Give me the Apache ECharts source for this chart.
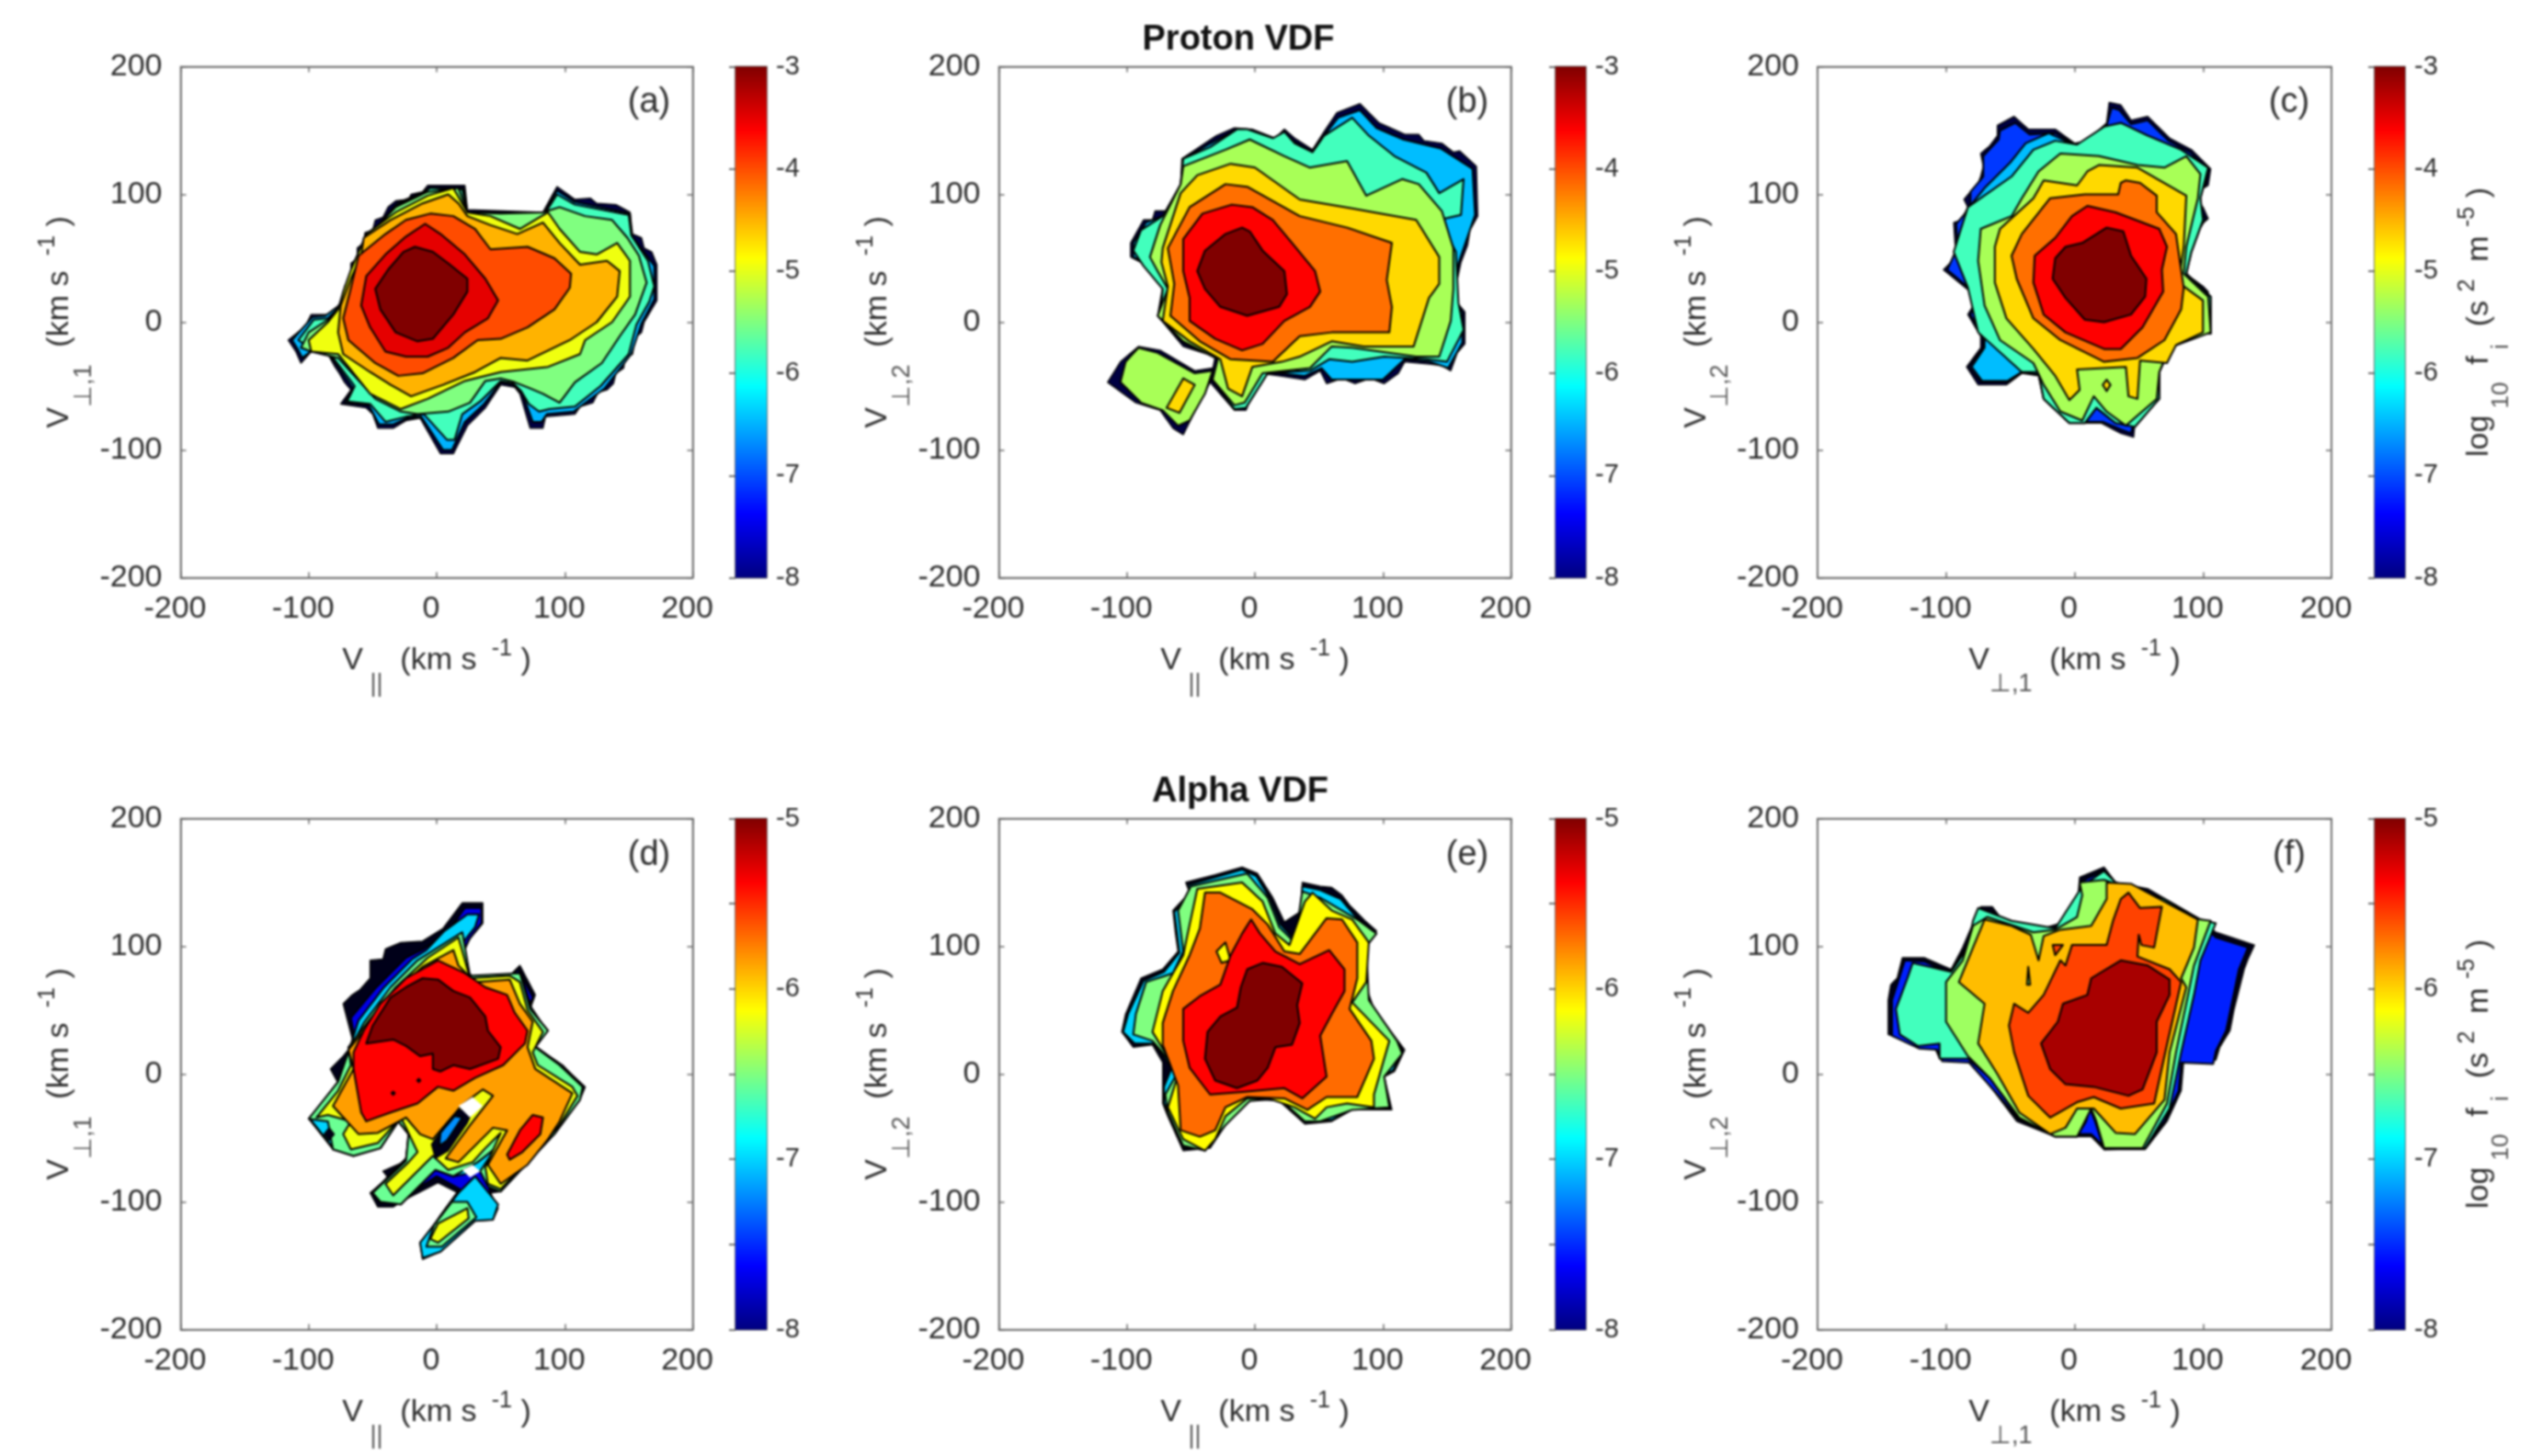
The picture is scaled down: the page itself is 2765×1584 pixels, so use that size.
<!DOCTYPE html>
<html><head><meta charset="utf-8">
<style>html,body{margin:0;padding:0;background:#fff}#c{width:2765px;height:1584px;filter:blur(0.8px)}</style>
<script src="https://cdn.jsdelivr.net/npm/echarts@6/dist/echarts.min.js"></script>
</head><body><div id="c"></div>
<script>
// Contours: flat x,y lists in km/s.
const aSil=[-116,-14,-106,-6,-102,-2,-98,6,-87,6,-80,6,-77,13,-72,18,-72,28,-67,34,-67,46,-62,50,-62,58,-57,62,-56,70,-50,72,-48,80,-42,82,-38,90,-32,95,-22,96,-20,100,-11,102,-7,107,22,107,24,88,83,86,94,106,108,96,120,97,125,93,140,92,151,86,153,69,160,66,162,58,168,55,172,45,172,17,162,0,160,-8,155,-12,153,-25,147,-28,146,-36,140,-40,138,-48,133,-53,126,-55,122,-63,112,-66,108,-72,85,-74,83,-83,73,-83,65,-56,61,-51,50,-49,38,-67,24,-81,13,-103,3,-103,-13,-75,-24,-77,-34,-83,-46,-83,-50,-72,-55,-67,-75,-64,-67,-53,-72,-47,-76,-40,-80,-34,-85,-25,-98,-23,-106,-32,-110,-23];
const aBlue=[-113,-14,-97,4,-87,5,-75,14,-65,46,-55,65,-31,93,-10,102,-6,105,21,105,24,86,84,85,94,103,108,94,151,85,152,68,170,44,170,18,160,-1,152,-25,131,-52,107,-70,86,-72,82,-78,75,-78,67,-56,60,-49,50,-47,37,-64,22,-78,12,-100,5,-100,-12,-74,-23,-75,-34,-80,-45,-80,-53,-65,-72,-63,-65,-52,-84,-25,-97,-22,-105,-28,-108,-22];
const aAqua=[-108,-14,-96,2,-85,3,-74,14,-64,46,-54,65,-30,92,-9,102,-5,105,20,104,24,86,84,84,94,100,108,92,150,84,152,68,165,48,170,28,166,16,156,-2,150,-25,128,-50,108,-66,88,-68,80,-70,72,-64,66,-54,60,-48,50,-46,34,-62,20,-72,14,-92,8,-92,-10,-72,-24,-74,-40,-78,-52,-64,-70,-62,-64,-50,-83,-25,-98,-21];
const aGreen=[96,90,116,83,137,80,149,66,158,52,164,31,155,6,143,-11,129,-32,108,-47,96,-63,83,-56,71,-51,61,-47,50,-44,38,-46,26,-63,9,-70,-15,-72,-28,-70,-48,-60,-77,-28,-98,-23,-106,-20,-100,-8,-85,2,-77,10,-67,38,-57,64,-32,90,-7,102,17,105,24,86,50,85,83,86];
const aYellow=[13,105,24,86,42,83,65,73,87,86,96,73,112,55,125,53,141,62,151,48,151,20,137,0,116,-14,112,-25,87,-35,50,-39,22,-46,-7,-60,-28,-68,-52,-56,-77,-25,-98,-23,-100,-14,-85,0,-77,10,-73,24,-67,41,-61,55,-55,69,-32,86,-7,99];
const aOrange=[9,100,17,93,24,83,42,76,63,69,83,78,96,62,112,45,133,48,143,40,141,20,125,0,104,-14,71,-30,50,-28,30,-39,5,-49,-20,-58,-36,-49,-52,-39,-73,-25,-77,-8,-75,13,-67,34,-59,52,-57,66,-36,80,-11,93];
const aOrangeRed=[-5,85,13,83,30,73,42,57,71,59,92,50,105,38,104,27,92,10,71,-4,50,-13,32,-14,13,-28,-11,-40,-30,-42,-48,-32,-69,-14,-73,3,-67,27,-61,52,-40,69,-24,80];
const aRed=[-9,77,3,69,22,53,38,34,48,17,40,3,22,-8,9,-20,-7,-27,-24,-27,-40,-23,-52,-4,-59,13,-55,36,-40,53,-24,67];
const aCore=[-17,59,-3,55,9,46,24,34,24,24,13,6,-3,-13,-15,-15,-32,-8,-44,10,-48,26,-38,41,-26,55];

const bSil=[-57,128,-48,134,-39,140,-30,146,-16,152,-2,151,16,144,23,151,31,144,45,135,54,149,64,164,82,171,97,156,117,147,128,147,132,142,146,140,155,133,160,134,173,122,174,83,168,72,166,60,161,47,155,19,164,8,164,-17,158,-24,153,-38,146,-34,138,-33,117,-31,112,-40,101,-48,90,-44,78,-48,68,-44,56,-48,51,-38,39,-45,19,-42,4,-40,-7,-69,-16,-69,-35,-47,-31,-27,-56,-19,-76,5,-72,28,-76,40,-97,51,-97,62,-87,80,-80,80,-78,87,-68,87,-64,96,-60,100,-58,108];
const bIsleSil=[-91,-19,-74,-22,-47,-38,-33,-36,-35,-47,-47,-70,-56,-88,-64,-83,-74,-69,-93,-63,-115,-47,-105,-31];
const bBlue=[-55,128,-38,138,-16,150,-3,149,16,142,23,148,31,141,45,133,54,146,65,160,82,166,95,152,116,143,145,136,170,120,172,84,159,46,153,18,162,8,162,-16,151,-36,137,-31,117,-29,100,-45,60,-45,52,-36,39,-42,18,-40,4,-39,-8,-67,-16,-67,-33,-46,-29,-28,-55,-17,-75,4,-71,28,-75,41,-95,51,-95,62,-85,78,-67,85,-57,107];
const bAqua=[-35,137,-14,151,-6,151,14,144,23,149,31,140,45,133,54,146,76,160,89,146,109,130,134,117,144,101,163,112,161,84,144,80,157,55,159,15,163,-6,150,-31,134,-29,101,-27,76,-31,58,-29,43,-38,10,-40,-7,-67,-16,-68,-33,-45,-27,-29,-56,-13,-74,3,-72,26,-87,44,-95,56,-89,72,-72,83,-58,108,-56,128];
const bIsleGreen=[-91,-20,-76,-24,-47,-40,-33,-38,-39,-56,-51,-77,-60,-81,-72,-69,-89,-63,-105,-47,-101,-31];
const bGreen=[-4,143,23,130,43,121,72,126,87,99,115,112,128,108,146,87,155,58,155,26,153,1,144,-27,126,-27,76,-20,60,-19,43,-36,6,-40,-8,-63,-16,-65,-33,-45,-29,-29,-56,-15,-76,5,-68,26,-76,40,-82,51,-74,76,-58,108,-56,122,-23,135];
const bGold=[-19,124,0,121,35,96,76,89,126,80,144,51,144,30,136,19,124,-19,85,-19,60,-15,35,-27,21,-31,-2,-35,-10,-58,-21,-52,-27,-29,-51,-15,-72,1,-68,28,-73,47,-72,58,-58,101,-45,115];
const bIsleGold=[-56,-44,-47,-49,-59,-71,-69,-67];
const bOrange=[-23,108,-6,106,35,83,72,74,107,62,103,33,107,12,105,-8,60,-8,35,-11,14,-31,-19,-29,-43,-15,-66,5,-63,30,-68,58,-51,90];
const bRed=[-18,92,-2,90,14,80,29,62,47,40,51,24,43,12,23,1,6,-17,-10,-22,-31,-13,-51,1,-51,19,-56,40,-56,65,-41,85];
const bCore=[-10,74,-4,71,6,56,23,40,25,22,19,12,-6,5,-27,12,-39,26,-45,40,-39,56,-23,69];

const cSil=[-60,154,-47,161,-36,151,-15,151,0,140,10,142,25,156,27,172,36,170,44,158,57,161,74,144,91,135,106,120,104,107,99,104,93,97,100,90,104,81,98,76,93,62,88,50,85,38,92,34,100,28,104,24,106,-9,85,-9,74,-21,66,-39,65,-60,47,-79,46,-90,36,-87,21,-79,-4,-79,-24,-60,-28,-42,-41,-40,-53,-49,-75,-49,-84,-35,-73,-20,-73,-11,-83,6,-75,19,-102,41,-95,48,-92,56,-93,62,-94,78,-88,80,-83,90,-86,96,-81,102,-76,106,-73,114,-71,122,-73,132,-66,138,-60,146];
const cBlue1=[-58,150,-46,156,-35,147,-15,148,0,139,10,141,25,154,29,168,35,166,44,155,57,158,73,142,90,133,104,119,102,107,91,97,102,81,91,62,84,38,102,24,105,-8,84,-8,73,-20,65,-38,64,-59,46,-78,44,-87,36,-84,22,-78,-4,-78,-24,-59,-27,-41,-41,-39,-53,-47,-73,-47,-82,-35,-71,-20,-71,-11,-81,6,-73,19,-99,41,-91,59,-92,77,-81,90,-81,102,-71,114,-71,130,-59,143];
const cBlue2=[1,138,23,152,36,156,57,146,83,135,104,120,98,97,100,80,91,55,87,38,106,20,106,-9,85,-9,74,-21,66,-39,66,-60,47,-80,32,-79,17,-67,8,-79,-4,-79,-24,-60,-28,-41,-41,-39,-52,-46,-72,-46,-80,-35,-70,-20,-70,-8,-80,24,-92,55,-82,90,-70,105,-50,125,-38,140,-20,148];
const cAqua=[2,139,23,153,36,156,57,146,83,135,104,121,98,97,100,80,91,55,87,38,106,20,106,-9,85,-9,74,-21,66,-39,66,-60,47,-82,32,-79,17,-67,8,-79,-4,-79,-24,-60,-28,-39,-41,-39,-75,-8,-83,27,-94,55,-83,90,-49,114,-32,135,-15,142];
const cGreen=[-11,132,19,130,49,123,70,121,87,130,98,116,96,97,87,59,85,38,104,20,106,-8,74,-20,66,-39,64,-60,40,-81,25,-70,15,-58,6,-77,-11,-70,-24,-49,-32,-32,-58,-14,-70,13,-75,48,-73,73,-49,83,-41,97,-28,118];
const cGold=[10,118,19,123,49,121,87,99,85,59,81,31,100,17,100,-8,79,-18,72,-32,51,-30,49,-60,42,-58,40,-35,2,-37,4,-53,-4,-61,-15,-42,-32,-21,-53,3,-62,31,-62,59,-58,73,-32,97,-24,111,2,107];
const cDiamond=[25,-45,28,-49,25,-54,22,-49];
const cOrange=[40,111,51,109,64,99,64,86,79,69,85,27,83,10,70,-14,49,-28,23,-31,-11,-14,-32,3,-45,34,-49,52,-41,69,-19,97,8,100,34,100,36,109];
const cRed=[10,91,32,86,66,73,72,59,68,41,69,24,53,-4,36,-21,23,-21,-7,-8,-24,6,-32,31,-31,52,-15,66,-2,83];
const cCore=[25,74,38,71,44,52,56,34,55,20,44,6,23,0,8,2,-7,19,-17,34,-15,50,-7,59,6,62];

const dSil=[20,134,36,134,36,118,26,106,17,87,28,75,57,77,65,85,77,62,73,51,87,34,77,22,100,5,116,-10,112,-20,92,-47,50,-92,42,-93,48,-105,44,-114,30,-115,3,-139,-11,-145,-13,-132,1,-114,17,-93,1,-85,-28,-100,-34,-104,-46,-104,-52,-93,-38,-81,-42,-76,-24,-68,-22,-47,-30,-37,-44,-58,-65,-64,-81,-59,-100,-35,-77,-7,-83,4,-73,14,-65,24,-73,55,-66,62,-60,66,-52,75,-52,89,-42,90,-40,98,-28,103,-11,104,5,114];
const dBlue=[22,130,35,130,35,118,25,105,17,86,28,76,56,76,64,82,75,60,71,50,85,34,75,22,99,6,114,-10,110,-20,90,-46,50,-90,41,-90,46,-105,42,-112,29,-113,2,-137,-10,-142,-11,-132,2,-112,18,-90,0,-80,-28,-98,-44,-101,-50,-93,-36,-78,-24,-66,-21,-48,-30,-37,-44,-56,-65,-62,-80,-58,-97,-35,-76,-8,-67,6,-64,28,-67,44,-47,68,-24,91,-10,98,8,110];
const dAqua=[24,125,33,125,30,115,22,105,17,88,28,76,56,76,65,80,74,52,86,34,76,22,98,7,113,-10,111,-20,91,-47,50,-91,41,-89,34,-76,13,-80,-1,-75,-28,-102,-44,-100,-50,-93,-24,-68,-22,-47,-30,-37,-44,-58,-65,-64,-80,-59,-99,-35,-77,-6,-69,17,-61,42,-41,68,-19,90,-8,97,6,112];
const dFingerAqua=[30,-80,48,-102,44,-114,30,-115,3,-139,-11,-144,-13,-132,1,-114,17,-93];
const dBlob=[-84,-42,-80,-47,-84,-52,-88,-47];
const dGreen=[20,111,26,77,65,79,73,51,87,34,77,21,96,7,114,-10,112,-20,92,-47,50,-92,40,-88,34,-76,46,-58,32,-69,13,-80,-1,-75,-28,-102,-44,-100,-50,-93,-24,-68,-22,-47,-30,-37,-44,-58,-65,-64,-81,-59,-85,-37,-100,-35,-77,-6,-69,17,-57,40,-36,68,-15,89];
const dFingerGreen=[24,-100,31,-112,4,-135,-8,-135,-2,-118,12,-100];
const dYellow=[17,107,26,75,57,77,65,72,71,50,83,33,75,17,79,7,106,-10,110,-17,96,-40,71,-68,50,-90,40,-86,38,-73,50,-46,38,-58,28,-69,9,-75,-3,-64,-34,-95,-40,-86,-22,-69,-15,-61,-24,-42,-28,-34,-46,-54,-67,-59,-73,-47,-67,-37,-85,-32,-94,-34,-77,-13,-67,7,-69,21,-52,43,-32,68,-7,91];
const dFingerYellow=[24,-105,25,-113,1,-132,-5,-129,1,-117];
const dSlitDark=[17.5,-28,30,-25,24,-38,9,-60,-1,-66,-4,-55,7,-40];
const dSlitBlue=[14,-33,20,-34,8,-52,2,-56,3,-46];
const dOrange=[13,97,17,85,30,72,57,74,65,55,75,41,71,21,77,4,106,-15,96,-37,87,-51,71,-71,50,-86,40,-71,55,-44,44,-42,17,-69,7,-66,26,-40,44,-17,36,-12,20,-24,-3,-51,-13,-47,-24,-34,-46,-46,-61,-47,-81,-25,-65,4,-69,19,-52,40,-36,62,-11,84];
const dRed=[1,89,22,79,38,68,55,62,61,48,71,34,69,24,52,7,30,-3,13,-13,1,-10,-15,-23,-36,-30,-55,-37,-59,-30,-65,4,-65,17,-57,34,-44,55,-24,75];
const dRedIsle=[75,-32,83,-34,81,-47,67,-61,57,-67,55,-63,65,-44];
const dCore=[-11,75,1,74,13,65,26,60,38,45,40,34,50,21,48,12,26,4,13,7,3,2,-3,4,-3,16,-13,14,-24,22,-34,27,-55,24,-50,38,-36,60,-24,68];
const dDot1=[-34,-13.5,-32.5,-15,-34,-16.5,-35.5,-15];
const dDot2=[-14,-3.5,-12.5,-5,-14,-6.5,-15.5,-5];
const dHole1=[17,-25,28,-18,36,-25,26,-34];
const dHole2=[20,-75,28,-71,34,-76,26,-81];

const eSil=[-54,150,-31,156,-10,162,2,157,14,138,23,119,37,128,37,150,51,147,60,146,68,140,74,132,78,128,86,120,95,112,87,103,87,68,93,51,117,19,109,2,101,-2,107,-28,76,-28,60,-37,39,-39,19,-21,-4,-19,-23,-40,-35,-58,-56,-60,-68,-33,-72,-23,-72,9,-80,23,-95,21,-104,33,-101,47,-89,75,-72,82,-60,96,-62,110,-64,128,-51,142];
const eAqua=[-52,148,-31,154,-10,160,1,155,12,137,20,117,31,105,36,130,37,147,51,144,67,137,78,124,93,111,86,101,86,68,91,52,115,19,108,3,100,-2,105,-27,76,-27,60,-36,39,-37,19,-20,-4,-20,-23,-39,-36,-57,-55,-58,-67,-32,-71,-23,-71,-10,-65,5,-79,24,-94,24,-103,33,-99,47,-87,73,-71,80,-59,95,-63,127,-51,140];
const eGreen=[-50,147,-6,157,10,138,19,115,31,103,37,143,51,138,80,121,95,110,87,100,89,58,111,26,115,16,101,-2,105,-26,76,-28,51,-37,39,-37,19,-19,-4,-21,-23,-40,-39,-60,-56,-56,-68,-30,-70,-16,-60,2,-80,26,-95,31,-93,47,-85,72,-64,79,-56,96,-60,128];
const eYellow=[-45,145,-10,150,6,135,16,110,27,101,39,135,45,142,60,128,76,121,89,103,87,72,76,56,105,26,93,-16,93,-26,72,-23,56,-26,47,-35,31,-26,10,-19,-6,-19,-23,-33,-31,-51,-39,-60,-56,-51,-68,-26,-60,0,-80,33,-72,65,-56,93,-51,117];
const eOrange=[-39,142,-27,142,-2,129,10,117,23,96,35,94,56,122,68,121,80,103,80,75,74,51,91,26,93,12,80,-18,56,-18,41,-28,23,-19,-6,-18,-23,-26,-31,-44,-43,-49,-58,-44,-60,-9,-72,23,-72,40,-64,65,-51,93,-43,114];
const eGoldSpot=[-23,103,-19,89,-26,87,-30,96];
const eRed=[-3,121,4,110,16,96,35,86,58,97,70,82,70,65,60,47,51,30,56,-2,37,-19,23,-11,-10,-14,-35,-16,-51,5,-56,26,-56,51,-43,61,-27,70,-19,93,-10,110];
const eCore=[6,87,21,84,37,71,33,54,35,40,29,23,16,21,10,5,2,-5,-14,-11,-31,-5,-39,12,-37,33,-27,45,-14,52,-11,68,-6,82];

const fSil=[-134,91,-117,91,-96,82,-87,99,-79,118,-73,131,-64,131,-58,123,-28,113,-11,118,2,130,4,154,23,162,32,150,57,145,83,130,98,121,110,111,140,101,135,90,132,82,128,66,124,50,121,34,113,21,110,11,85,11,83,-13,72,-37,55,-59,23,-59,13,-49,-15,-49,-45,-37,-60,-17,-70,-4,-83,11,-105,12,-109,21,-122,22,-145,31,-145,58,-143,70,-138,75];
const fBlue=[-132,89,-117,88,-97,79,-85,98,-77,116,-72,128,-65,128,-57,120,-28,110,-11,115,3,127,6,151,22,159,32,147,57,142,82,127,97,119,110,107,135,99,128,82,118,34,110,18,108,8,83,9,81,-13,70,-37,54,-57,23,-57,13,-47,-15,-47,-44,-35,-59,-17,-82,9,-103,10,-107,19,-121,20,-142,30,-142,58];
const fAqua=[-75,130,-49,120,-15,114,6,147,23,159,32,150,70,137,98,121,110,118,98,89,93,62,83,17,74,-27,55,-58,23,-59,16,-37,12,-27,9,-37,2,-49,-15,-49,-43,-35,-66,-3,-83,12,-105,12,-105,24,-122,22,-136,31,-139,51,-130,75,-126,87,-96,80,-83,99,-79,120];
const fGreen=[4,150,23,152,70,135,98,121,106,120,93,85,89,65,79,17,72,-23,53,-58,23,-58,17,-37,13,-27,8,-37,2,-49,-15,-49,-43,-34,-66,-3,-83,14,-100,41,-100,72,-87,89,-79,116,-68,123,-32,111,-15,113,2,123,6,140];
const fAmber=[25,150,44,149,70,135,96,121,93,99,83,75,87,68,74,17,70,-20,47,-47,32,-46,15,-27,2,-27,-7,-42,-19,-47,-43,-30,-60,0,-75,24,-70,55,-90,72,-79,99,-70,121,-49,116,-34,109,-28,89,-24,108,-11,113,13,116,25,137];
const fSlit=[-36,84,-34.5,70,-37,70];
const fOrangeRed=[42,142,51,130,68,131,62,99,52,101,50,109,49,92,74,82,83,72,70,14,62,-23,36,-27,15,-18,2,-22,-19,-34,-36,-17,-47,17,-51,38,-47,55,-36,48,-24,62,-11,89,-7,85,-2,101,25,101,30,120,36,137];
const fOrangeBit=[-17,101,-9,101,-15,93];
const fCore=[36,89,57,85,74,74,74,62,64,41,64,17,53,-12,42,-17,15,-10,-7,-8,-19,4,-26,24,-13,41,-9,55,10,62,13,75];

const xNames=['par','par','p1','par','par','p1'];
const yNames=['p1','p2','p2','p1','p2','p2'];
const panelTags=['(a)','(b)','(c)','(d)','(e)','(f)'];
const DARK=-8.3;
const panelRings=[
 [[DARK,aSil],[-6.5,aBlue],[-5.8,aAqua],[-5.5,aGreen],[-4.95,aYellow],[-4.5,aOrange],[-4,aOrangeRed],[-3.5,aRed],[-3,aCore]],
 [[DARK,bSil],[DARK,bIsleSil],[-6.45,bBlue],[-5.8,bAqua],[-5.3,bIsleGreen],[-5.3,bGreen],[-4.69,bGold],[-4.69,bIsleGold],[-4.17,bOrange],[-3.62,bRed],[-3,bCore]],
 [[DARK,cSil],[-7.1,cBlue1],[-6.45,cBlue2],[-5.8,cAqua],[-5.3,cGreen],[-4.69,cGold],[-4.69,cDiamond],[-4.17,cOrange],[-3.62,cRed],[-3,cCore]],
 [[DARK,dSil],[-7.7,dBlue],[-7,dAqua],[-7,dFingerAqua],[-6.56,dGreen],[-6.56,dFingerGreen],[DARK,dBlob],[-6.17,dYellow],[-6.17,dFingerYellow],[DARK,dSlitDark],[-7.2,dSlitBlue],[-5.84,dOrange],[-5.375,dRed],[-5.375,dRedIsle],[-5,dCore],[DARK,dDot1],[DARK,dDot2],[null,dHole1],[null,dHole2]],
 [[DARK,eSil],[-7,eAqua],[-6.5,eGreen],[-6.12,eYellow],[-5.69,eOrange],[-6.12,eGoldSpot],[-5.375,eRed],[-5,eCore]],
 [[DARK,fSil],[-7.53,fBlue],[-6.68,fAqua],[-6.41,fGreen],[-5.93,fAmber],[-6.41,fSlit],[-5.57,fOrangeRed],[-5.57,fOrangeBit],[-5.12,fCore]]
];
const cbarRange=[[-8,-3],[-8,-3],[-8,-3],[-8,-5],[-8,-5],[-8,-5]];
const plotLeft=[196.5,1086.5,1977];
const plotW=[557,557,559];
const cbarLeft=[800,1692,2583];
const cbarW=[34,33,33];
const rowTop=[72.5,890.5];
const rowH=556;

function clamp(v){return Math.max(0,Math.min(1,v));}
function jet(t){
  const r=clamp(Math.min(4*t-1.5,-4*t+4.5)),g=clamp(Math.min(4*t-.5,-4*t+3.5)),b=clamp(Math.min(4*t+.5,-4*t+2.5));
  return 'rgb('+[r,g,b].map(c=>Math.round(c*255)).join(',')+')';
}
const FONT='Liberation Sans',TXT='#2e2e2e',AX='#6a6a6a';
const richBase={
  v:{fontFamily:FONT,fontSize:34,color:TXT},
  sub:{fontFamily:FONT,fontSize:27,color:'#555',padding:[52,0,0,0]},
  sup:{fontFamily:FONT,fontSize:25,color:TXT,padding:[0,0,26,0]},
  fsub:{fontFamily:FONT,fontSize:26,color:'#555',padding:[48,0,0,0]}
};
const nameText={
  par:'{v|V}{sub| ||}{v|  (km s }{sup| -1}{v| )}',
  p1:'{v|V}{sub|\u22A5,1}{v|  (km s }{sup| -1}{v| )}',
  p2:'{v|V}{sub|\u22A5,2}{v|  (km s }{sup| -1}{v| )}'
};
const cbarName='{v|log}{fsub| 10}{v|  f}{fsub| i}{v|  (s }{sup|2}{v|  m }{sup|-5}{v| )}';

const grid=[],xAxis=[],yAxis=[],series=[],graphic=[];
panelRings.forEach((rings,p)=>{
  const col=p%3,row=Math.floor(p/3);
  const [lo,hi]=cbarRange[p];
  const g=grid.length;
  grid.push({left:plotLeft[col],top:rowTop[row],width:plotW[col],height:rowH,show:true,borderColor:AX,borderWidth:1.5,backgroundColor:'#fff',containLabel:false});
  const common={type:'value',min:-200,max:200,interval:100,splitLine:{show:false},axisLine:{show:true,onZero:false,lineStyle:{color:AX,width:1.5}},axisTick:{show:true,inside:true,length:6,lineStyle:{color:AX,width:1.5}}};
  const xi=xAxis.length,yi=yAxis.length;
  xAxis.push({...common,gridIndex:g,position:'bottom',name:nameText[xNames[p]],nameLocation:'middle',nameGap:51,nameTextStyle:{rich:richBase,fontFamily:FONT,fontSize:34,color:TXT},
    axisLabel:{fontFamily:FONT,fontSize:34,color:TXT,margin:17,padding:[0,12,0,0]}});
  yAxis.push({...common,gridIndex:g,position:'left',name:nameText[yNames[p]],nameLocation:'middle',nameGap:87,nameRotate:90,nameTextStyle:{rich:richBase,fontFamily:FONT,fontSize:34,color:TXT},
    axisLabel:{fontFamily:FONT,fontSize:34,color:TXT,margin:20,padding:[4,0,0,0]}});
  xAxis.push({...common,gridIndex:g,position:'top',axisLabel:{show:false}});
  yAxis.push({...common,gridIndex:g,position:'right',axisLabel:{show:false}});
  series.push({type:'custom',xAxisIndex:xi,yAxisIndex:yi,coordinateSystem:'cartesian2d',clip:true,animation:false,silent:true,
    data:rings.map((r,i)=>[r[1][0],r[1][1],i,r[0]]),
    encode:{x:0,y:1},
    renderItem:(params,api)=>{
      const ring=rings[params.dataIndex],pts=[];
      for(let i=0;i<ring[1].length;i+=2) pts.push(api.coord([ring[1][i],ring[1][i+1]]));
      const isHole=ring[0]===null;
      return {type:'polygon',shape:{points:pts},style:{fill:isHole?'#fff':jet((ring[0]-lo)/(hi-lo)),stroke:isHole?null:'#000',lineWidth:ring[0]===DARK?1.4:2,lineJoin:'round'}};
    }});
  const g2=grid.length;
  grid.push({left:cbarLeft[col],top:rowTop[row],width:cbarW[col],height:rowH,show:true,borderColor:'#444',borderWidth:1.5,containLabel:false});
  const xb=xAxis.length,yb=yAxis.length;
  xAxis.push({type:'value',gridIndex:g2,min:0,max:1,show:false});
  const bar={type:'value',gridIndex:g2,min:lo,max:hi,interval:p<3?1:0.5,position:'right',splitLine:{show:false},
    axisLine:{show:false},axisTick:{show:true,inside:true,length:7,lineStyle:{color:'#444',width:1.5}},
    axisLabel:{fontFamily:FONT,fontSize:29,color:TXT,margin:10,formatter:v=>Number.isInteger(v)?String(v):''}};
  if(col===2){bar.name=cbarName;bar.nameLocation='middle';bar.nameRotate=90;bar.nameGap=44;bar.nameTextStyle={rich:richBase,fontFamily:FONT,fontSize:34,color:TXT};}
  yAxis.push(bar);
  series.push({type:'custom',xAxisIndex:xb,yAxisIndex:yb,clip:false,animation:false,silent:true,z:1,
    data:[[0,lo,1,hi]],encode:{x:0,y:1},
    renderItem:(params,api)=>{
      const a=api.coord([0,lo]),b=api.coord([1,hi]);
      const stops=[0,.125,.375,.625,.875,1].map(t=>({offset:t,color:jet(t)}));
      return {type:'rect',shape:{x:a[0],y:b[1],width:b[0]-a[0],height:a[1]-b[1]},
        style:{fill:new echarts.graphic.LinearGradient(0,1,0,0,stops)}};
    }});
});
const tagX=[706,1596,2490],tagY=[112,931];
panelRings.forEach((r,p)=>graphic.push({type:'text',x:tagX[p%3],y:tagY[Math.floor(p/3)],z:20,style:{text:panelTags[p],fontFamily:FONT,fontSize:38,fill:TXT,textAlign:'center',textVerticalAlign:'middle'}}));
const option={animation:false,backgroundColor:'#fff',
  title:[
   {text:'Proton VDF',left:1342,top:20,textAlign:'center',textStyle:{fontFamily:FONT,fontWeight:'bold',fontSize:38,color:'#111'}},
   {text:'Alpha VDF',left:1344,top:838,textAlign:'center',textStyle:{fontFamily:FONT,fontWeight:'bold',fontSize:38,color:'#111'}}
  ],
  grid,xAxis,yAxis,series,graphic};
const chart=echarts.init(document.getElementById('c'),null,{renderer:'canvas',width:2765,height:1584});
chart.setOption(option);
</script></body></html>
